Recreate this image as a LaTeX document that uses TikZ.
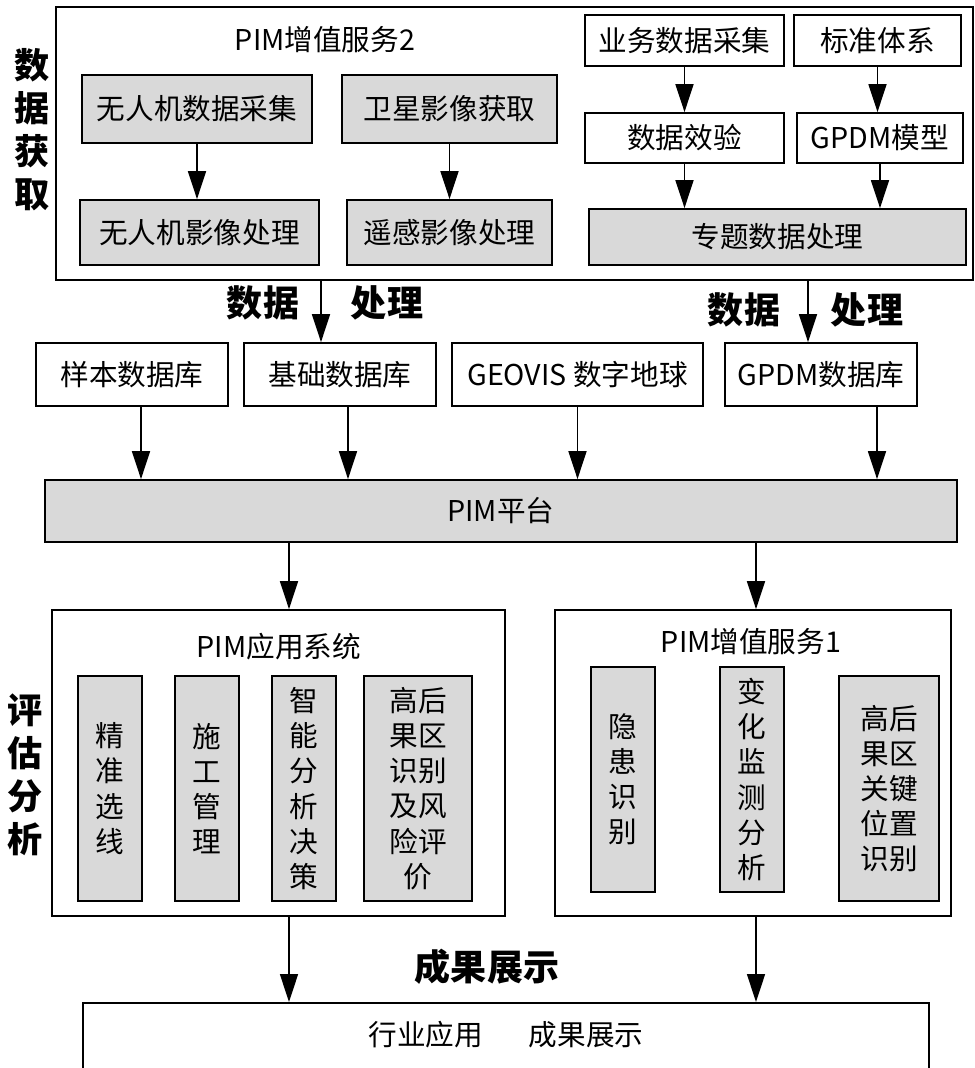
\documentclass[tikz,border=0pt]{standalone}
\usepackage{fontspec}
\setmainfont{Noto Sans CJK SC}
\usepackage{tikz}
\usetikzlibrary{arrows.meta}
\definecolor{boxgray}{RGB}{217,217,217}
\tikzset{
    box/.style={draw,line width=1pt,inner sep=0pt,align=center},
    gbox/.style={box,fill=boxgray},
    sz/.style 2 args={minimum width=#1*0.02cm,minimum height=#2*0.02cm},
    arr/.style={-{Triangle[length=0.56cm,width=0.36cm]},line width=0.9pt},
    big/.style={font=\fontsize{20.5pt}{24pt}\selectfont\bfseries},
    side/.style={font=\fontsize{20pt}{24.5pt}\selectfont\bfseries,align=center}
}

\begin{document}
\begin{tikzpicture}[x=0.02cm,y=-0.02cm,font=\fontsize{16.3pt}{20pt}\selectfont]
\clip (0,0) rectangle (974,1068);

% data acquisition
\node[box,sz={917}{273}] (acq) at (514.5,143.5) {};
\node (t2) at (325,40) {PIM增值服务2};
\node[gbox,sz={230}{68}] (uav1) at (197,109) {无人机数据采集};
\node[gbox,sz={215}{68}] (sat1) at (449.5,109) {卫星影像获取};
\node[gbox,sz={239}{65}] (uav2) at (199.5,232.5) {无人机影像处理};
\node[gbox,sz={205}{65}] (sat2) at (449.5,232.5) {遥感影像处理};
\node[box,sz={199}{51}] (ywcj) at (684.5,40.5) {业务数据采集};
\node[box,sz={167}{51}] (bztx) at (877.5,40.5) {标准体系};
\node[box,sz={199}{50}] (sjxy) at (684.5,138) {数据效验};
\node[box,sz={166}{50}] (gpdm) at (880,138) {GPDM模型};
\node[gbox,sz={377}{56}] (ztcl) at (777.5,237) {专题数据处理};
\node[side] (lb1) at (32,130) {数\\据\\获\\取};

\draw[arr] (uav1.south) -- (uav1.south |- uav2.north);
\draw[arr] (sat1.south) -- (sat1.south |- sat2.north);
\draw[arr] (ywcj.south) -- (ywcj.south |- sjxy.north);
\draw[arr] (bztx.south) -- (bztx.south |- gpdm.north);
\draw[arr] (sjxy.south) -- (sjxy.south |- ztcl.north);
\draw[arr] (gpdm.south) -- (gpdm.south |- ztcl.north);

% databases
\node[box,sz={192}{63}] (ybk) at (132,374.5) {样本数据库};
\node[box,sz={192}{63}] (jck) at (340,374.5) {基础数据库};
\node[box,sz={251}{63}] (geo) at (577.5,374.5) {GEOVIS 数字地球};
\node[box,sz={192}{63}] (gpk) at (821,374.5) {GPDM数据库};
\node[gbox,sz={912}{62}] (pim) at (501,511) {PIM平台};

\coordinate (d1) at (321,280);
\coordinate (d2) at (808,280);
\draw[arr] (d1) -- (d1 |- jck.north);
\draw[arr] (d2) -- (d2 |- gpk.north);
\node[big] (sj1) at (263,303) {数据};
\node[big] (cl1) at (387,303) {处理};
\node[big] (sj2) at (744,310) {数据};
\node[big] (cl2) at (867,310) {处理};

\coordinate (a1) at (141,0);
\coordinate (a2) at (348,0);
\coordinate (a3) at (877,0);
\draw[arr] (a1 |- ybk.south) -- (a1 |- pim.north);
\draw[arr] (a2 |- jck.south) -- (a2 |- pim.north);
\draw[arr] (geo.south) -- (geo.south |- pim.north);
\draw[arr] (a3 |- gpk.south) -- (a3 |- pim.north);

% evaluation
\node[box,sz={453}{306}] (yyxt) at (278.5,763) {};
\node[box,sz={396}{306}] (zz1) at (753,763) {};
\node (t0) at (279,647) {PIM应用系统};
\node (t1) at (751,642) {PIM增值服务1};
\node[gbox,sz={64}{225}] (jzxx) at (110,788.5) {精\\准\\选\\线};
\node[gbox,sz={64}{225}] (sggl) at (207,788.5) {施\\工\\管\\理};
\node[gbox,sz={64}{225}] (znfx) at (304,788.5) {智\\能\\分\\析\\决\\策};
\node[gbox,sz={108}{225}] (hgg1) at (418,788.5) {高后\\果区\\识别\\及风\\险评\\价};
\node[gbox,sz={64}{225}] (yhsb) at (623,779.5) {隐\\患\\识\\别};
\node[gbox,sz={64}{225}] (bhjc) at (752,779.5) {变\\化\\监\\测\\分\\析};
\node[gbox,sz={100}{225}] (hgg2) at (889,788.5) {高后\\果区\\关键\\位置\\识别};
\node[side] (lb2) at (25,775) {评\\估\\分\\析};

\coordinate (c1) at (289,0);
\coordinate (c2) at (756,0);
\draw[arr] (c1 |- pim.south) -- (c1 |- yyxt.north);
\draw[arr] (c2 |- pim.south) -- (c2 |- zz1.north);

% results
\node[box,sz={846}{120},anchor=north] (cgzs) at (506,1002) {};
\node (hy) at (506,1035) {行业应用\hspace{1.6em}成果展示};
\node[big] (cg) at (487,967) {成果展示};
\draw[arr] (c1 |- yyxt.south) -- (c1 |- cgzs.north);
\draw[arr] (c2 |- zz1.south) -- (c2 |- cgzs.north);
\end{tikzpicture}
\end{document}
